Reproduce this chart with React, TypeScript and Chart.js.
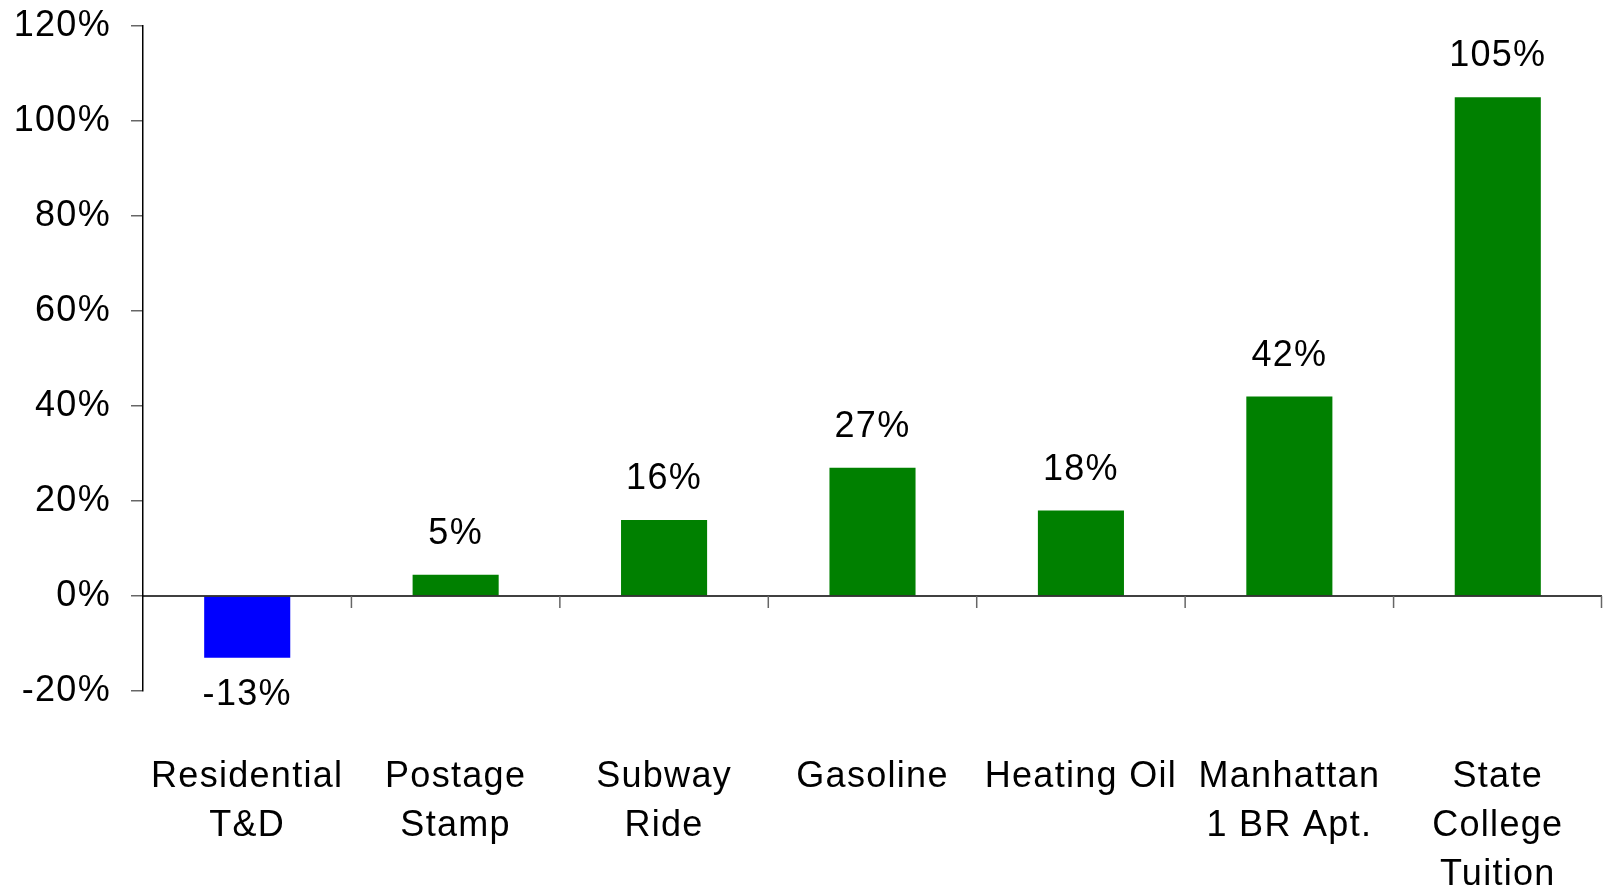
import React, { useEffect, useRef } from "react";
import { Chart, registerables } from "chart.js";

Chart.register(...registerables);

const categories: string[][] = [
  ["Residential", "T&D"],
  ["Postage", "Stamp"],
  ["Subway", "Ride"],
  ["Gasoline"],
  ["Heating Oil"],
  ["Manhattan", "1 BR Apt."],
  ["State", "College", "Tuition"],
];
const changePct: number[] = [-13, 4.5, 16, 27, 18, 42, 105];
const valueLabels: string[] = ["-13%", "5%", "16%", "27%", "18%", "42%", "105%"];
const yTicks = { min: -20, max: 120, step: 20 };

const FONT = "'Liberation Sans', Arial, sans-serif";
const SPACING = "1.3px";

const spacingPlugin = {
  id: "spacing",
  beforeUpdate(chart: any) {
    chart.ctx.letterSpacing = SPACING;
  },
  beforeLayout(chart: any) {
    chart.ctx.letterSpacing = SPACING;
  },
  beforeDraw(chart: any) {
    chart.ctx.letterSpacing = SPACING;
  },
};

const overlayPlugin = {
  id: "overlay",
  afterDatasetsDraw(chart: any) {
    const { ctx, chartArea, scales } = chart;
    const xs = scales.x;
    const ys = scales.y;
    const y0 = ys.getPixelForValue(0);
    ctx.save();
    ctx.strokeStyle = "#000";
    ctx.lineWidth = 1.5;
    ctx.beginPath();
    ctx.moveTo(chartArea.left, y0);
    ctx.lineTo(chartArea.right, y0);
    ctx.stroke();
    ctx.strokeStyle = "#666";
    ctx.lineWidth = 1.5;
    const n = categories.length;
    for (let i = 1; i <= n; i++) {
      const x =
        i < n
          ? (xs.getPixelForValue(i - 1) + xs.getPixelForValue(i)) / 2
          : chartArea.right - 0.5;
      ctx.beginPath();
      ctx.moveTo(x, y0);
      ctx.lineTo(x, y0 + 12);
      ctx.stroke();
    }
    ctx.fillStyle = "#000";
    ctx.font = `36px ${FONT}`;
    ctx.letterSpacing = SPACING;
    ctx.textAlign = "center";
    ctx.textBaseline = "alphabetic";
    const meta = chart.getDatasetMeta(0);
    meta.data.forEach((bar: any, i: number) => {
      const v = changePct[i];
      const y = v >= 0 ? bar.y - 31 : bar.y + 47;
      ctx.fillText(valueLabels[i], bar.x, y);
    });
    ctx.restore();
  },
};

export default function App() {
  const ref = useRef<HTMLCanvasElement | null>(null);
  useEffect(() => {
    if (!ref.current) return;
    Chart.defaults.font.family = FONT;
    const chart = new Chart(ref.current, {
      type: "bar",
      data: {
        labels: categories as any,
        datasets: [
          {
            data: changePct,
            backgroundColor: changePct.map((v) => (v < 0 ? "#0000FF" : "#008000")),
            borderWidth: 0,
            categoryPercentage: 1,
            barPercentage: 0.413,
          },
        ],
      },
      options: {
        animation: false,
        responsive: true,
        maintainAspectRatio: false,
        layout: { padding: { top: 26, right: 2, left: 0, bottom: 0 } },
        plugins: { legend: { display: false }, tooltip: { enabled: false } },
        scales: {
          x: {
            grid: { display: false },
            border: { display: false },
            ticks: {
              color: "#000",
              font: { size: 36, lineHeight: "49px" as any },
              padding: 54,
              maxRotation: 0,
              autoSkip: false,
            },
            afterFit: (s: any) => {
              s.height = 204;
              s.paddingLeft = 0;
              s.paddingRight = 0;
            },
          },
          y: {
            min: yTicks.min,
            max: yTicks.max,
            ticks: {
              stepSize: yTicks.step,
              color: "#000",
              font: { size: 36 },
              padding: 20,
              callback: (v: any) => `${v}%`,
            },
            grid: {
              drawOnChartArea: false,
              tickLength: 12,
              color: "#666",
              lineWidth: 1.5,
            },
            border: { color: "#000", width: 1.5 },
            afterFit: (s: any) => {
              s.width = 143;
              s.paddingTop = 0;
              s.paddingBottom = 0;
            },
          },
        },
      },
      plugins: [spacingPlugin, overlayPlugin],
    });
    return () => chart.destroy();
  }, []);
  return (
    <div style={{ position: "fixed", left: 0, top: 0, width: 1604, height: 895, background: "#fff" }}>
      <canvas ref={ref} />
    </div>
  );
}
